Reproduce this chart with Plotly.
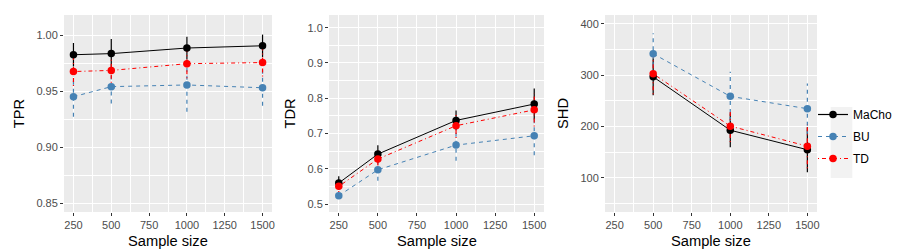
import plotly.graph_objects as go

# ---------------- data ----------------
series_names = ["MaCho", "BU", "TD"]
sample_sizes = [250, 500, 1000, 1500]
shd_sizes = [500, 1000, 1500]
x_ticks = [250, 500, 750, 1000, 1250, 1500]

tpr_macho = [0.9825, 0.9835, 0.9885, 0.9905]
tpr_macho_err = [0.0105, 0.013, 0.010, 0.010]
tpr_bu = [0.945, 0.954, 0.9555, 0.953]
tpr_bu_err = [0.018, 0.015, 0.024, 0.016]
tpr_td = [0.9675, 0.9685, 0.9745, 0.9755]
tpr_td_err = [0.013, 0.011, 0.013, 0.0125]

tdr_macho = [0.5595, 0.6415, 0.737, 0.7835]
tdr_macho_err = [0.019, 0.025, 0.028, 0.044]
tdr_bu = [0.5235, 0.597, 0.667, 0.6935]
tdr_bu_err = [None, 0.031, 0.044, 0.055]
tdr_td = [0.55, 0.6275, 0.722, 0.767]
tdr_td_err = [0.016, 0.03, 0.035, 0.047]

shd_macho = [297, 193, 155]
shd_macho_err = [36, 33, 44]
shd_bu = [342, 259, 235]
shd_bu_err = [40, 48, 49]
shd_td = [303, 201, 162]
shd_td_err = [40, 31, 43]

# ---------------- styles ----------------
colors = {"MaCho": "#000000", "BU": "#4682B4", "TD": "#FF0000"}
dashes = {"MaCho": "solid", "BU": "4px,4px", "TD": "1px,3px,4px,3px"}
FONT = "Liberation Sans, Arial, sans-serif"

panels = [
    dict(xs=sample_sizes, title="TPR", fmt=".2f", yr=[0.842, 1.018], dt=0.05, t0=0.85,
         data={"MaCho": (tpr_macho, tpr_macho_err), "BU": (tpr_bu, tpr_bu_err), "TD": (tpr_td, tpr_td_err)},
         dom=[56 / 900, 264 / 900]),
    dict(xs=sample_sizes, title="TDR", fmt=".1f", yr=[0.4773, 1.036], dt=0.1, t0=0.5,
         data={"MaCho": (tdr_macho, tdr_macho_err), "BU": (tdr_bu, tdr_bu_err), "TD": (tdr_td, tdr_td_err)},
         dom=[321 / 900, 536 / 900]),
    dict(xs=shd_sizes, title="SHD", fmt="d", yr=[33.7, 417.5], dt=100, t0=100,
         data={"MaCho": (shd_macho, shd_macho_err), "BU": (shd_bu, shd_bu_err), "TD": (shd_td, shd_td_err)},
         dom=[597 / 900, 809 / 900]),
]

fig = go.Figure()
ydom = [1 - 204 / 250, 1 - 7 / 250]

for i, p in enumerate(panels):
    sfx = "" if i == 0 else str(i + 1)
    xa, ya = "x" + sfx, "y" + sfx
    # connecting lines
    for name in series_names:
        vals, _ = p["data"][name]
        fig.add_trace(go.Scatter(x=p["xs"], y=vals, mode="lines", xaxis=xa, yaxis=ya,
                                 line=dict(color=colors[name], width=1, dash=dashes[name]),
                                 showlegend=False, hoverinfo="skip"))
    # error bars as vertical segments, keeping line style
    for name in series_names:
        vals, errs = p["data"][name]
        ex, ey = [], []
        for x, v, e in zip(p["xs"], vals, errs):
            if e is None:
                continue
            ex += [x, x, None]
            ey += [v - e, v + e, None]
        fig.add_trace(go.Scatter(x=ex, y=ey, mode="lines", xaxis=xa, yaxis=ya,
                                 line=dict(color=colors[name], width=1.2, dash=dashes[name]),
                                 showlegend=False, hoverinfo="skip"))
    # points
    for name in series_names:
        vals, _ = p["data"][name]
        fig.add_trace(go.Scatter(x=p["xs"], y=vals, mode="markers", xaxis=xa, yaxis=ya,
                                 marker=dict(color=colors[name], size=7.5, line=dict(width=0)),
                                 showlegend=False, name=name))

    axis_common = dict(showgrid=True, gridcolor="white", gridwidth=1.1, zeroline=False,
                       ticks="outside", ticklen=3, tickwidth=1, tickcolor="#333333",
                       tickfont=dict(family=FONT, size=11, color="#4D4D4D"),
                       showline=False, automargin=False)
    fig.update_layout(**{
        "xaxis" + sfx: dict(axis_common, domain=p["dom"], anchor=ya, range=[187.5, 1562.5],
                            tickmode="array", tickvals=x_ticks,
                            minor=dict(tickvals=[375, 625, 875, 1125, 1375], showgrid=True,
                                       gridcolor="white", gridwidth=0.5, ticklen=0)),
        "yaxis" + sfx: dict(axis_common, domain=ydom, anchor=xa, range=p["yr"],
                            tick0=p["t0"], dtick=p["dt"], tickformat=p["fmt"],
                            minor=dict(tick0=p["t0"] - p["dt"] / 2, dtick=p["dt"], showgrid=True,
                                       gridcolor="white", gridwidth=0.5, ticklen=0),
                            title=dict(text=p["title"], font=dict(family=FONT, size=14.67, color="black"),
                                       standoff=8)),
    })
    # x-axis title placed like ggplot's
    fig.add_annotation(text="Sample size", xref="paper", yref="paper",
                       x=(p["dom"][0] + p["dom"][1]) / 2, y=1 - 233 / 250,
                       xanchor="center", yanchor="middle", showarrow=False,
                       font=dict(family=FONT, size=14.67, color="black"))

# legend entries
for name in series_names:
    fig.add_trace(go.Scatter(x=[None], y=[None], mode="lines+markers", name=name,
                             legendgroup=name,
                             line=dict(color=colors[name], width=1.2, dash=dashes[name]),
                             marker=dict(color=colors[name], size=7.5)))

fig.add_shape(type="rect", xref="paper", yref="paper", x0=822.7 / 900, x1=844.3 / 900,
              y0=1 - 170 / 250, y1=1 - 99 / 250, fillcolor="#F2F2F2", line=dict(width=0), layer="below")

fig.update_layout(
    width=900, height=250,
    margin=dict(l=0, r=0, t=0, b=0),
    paper_bgcolor="white", plot_bgcolor="#EBEBEB",
    font=dict(family=FONT, color="black"),
    legend=dict(x=805 / 900, y=1 - 92 / 250, xanchor="left", yanchor="top",
                bgcolor="rgba(0,0,0,0)", font=dict(family=FONT, size=12, color="black"),
                itemwidth=30, tracegroupgap=3),
    showlegend=True,
)

fig.write_html("out.html")
